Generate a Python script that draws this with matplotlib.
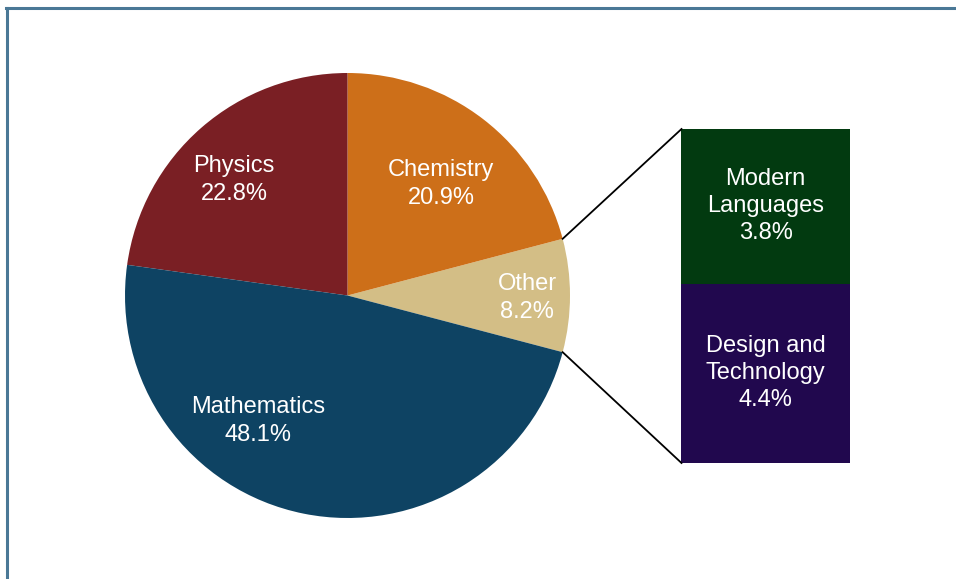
import matplotlib.pyplot as plt
import numpy as np
from matplotlib.lines import Line2D

plt.rcParams['font.family'] = ['Liberation Sans', 'DejaVu Sans']

# Main pie data
pie_labels = ["Other", "Chemistry", "Physics", "Mathematics"]
pie_values = [8.2, 20.9, 22.8, 48.1]
pie_colors = ["#D3BE86", "#CD6F19", "#7A1F24", "#0E4363"]

# Breakdown of "Other"
bar_labels = ["Modern\nLanguages", "Design and\nTechnology"]
bar_values = [3.8, 4.4]
bar_colors = ["#023A10", "#21084E"]

W, H = 956, 579
fig = plt.figure(figsize=(W / 100, H / 100), dpi=100)
ax = fig.add_axes([0, 0, 1, 1])

# pixel-like coordinates (y up)
cx, cy, r = 347.5, H - 295.5, 222.5
start = -pie_values[0] * 3.6 / 2

wedges, _ = ax.pie(pie_values, colors=pie_colors, startangle=start,
                   counterclock=True, center=(cx, cy), radius=r,
                   wedgeprops=dict(linewidth=0))

# label positions (pixel coords from top-left)
label_pos = [(527, 298), (441, 184), (234, 180), (258, 421)]
for name, val, (px, py) in zip(pie_labels, pie_values, label_pos):
    ax.text(px, H - py, f"{name}\n{val}%", ha='center', va='center',
            color='white', fontsize=17, linespacing=1.3)

# stacked bar for "Other"
bar_left, bar_right = 681.5, 850
bar_top, bar_bot = H - 129, H - 463
scale = (bar_top - bar_bot) / sum(bar_values)
bar_x = (bar_left + bar_right) / 2
bw = bar_right - bar_left
top = bar_top
for name, val, col in zip(bar_labels, bar_values, bar_colors):
    h = val * scale
    ax.bar(bar_x, h, width=bw, bottom=top - h, color=col, linewidth=0)
    ax.text(bar_x, top - h / 2, f"{name}\n{val}%", ha='center', va='center',
            color='white', fontsize=17, linespacing=1.3)
    top -= h

# connector lines
t1 = np.deg2rad(start + pie_values[0] * 3.6)
t0 = np.deg2rad(start)
ax.plot([cx + r * np.cos(t1), bar_left], [cy + r * np.sin(t1), bar_top],
        color='black', lw=1.3)
ax.plot([cx + r * np.cos(t0), bar_left], [cy + r * np.sin(t0), bar_bot],
        color='black', lw=1.3)

ax.set_xlim(0, W)
ax.set_ylim(0, H)
ax.set_aspect('auto')
ax.axis('off')

# frame (left and top edges)
border = '#4A7896'
fig.add_artist(Line2D([7 / W, 7 / W], [0, 1 - 8 / H], color=border, lw=2.2,
                      transform=fig.transFigure))
fig.add_artist(Line2D([6 / W, 1], [1 - 8 / H, 1 - 8 / H], color=border, lw=2.2,
                      transform=fig.transFigure))

fig.savefig('out.png', dpi=100)
